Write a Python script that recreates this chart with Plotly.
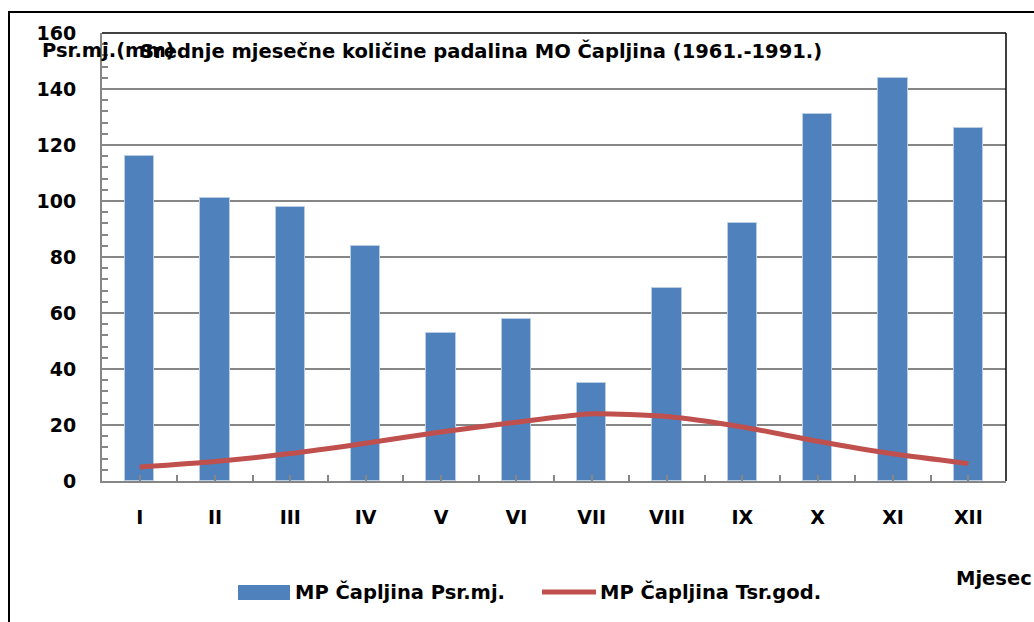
import plotly.graph_objects as go

# ---- data ----
months = ["I", "II", "III", "IV", "V", "VI", "VII", "VIII", "IX", "X", "XI", "XII"]
precip = [116, 101, 98, 84, 53, 58, 35, 69, 92, 131, 144, 126]          # MP Čapljina Psr.mj.
temp = [5.0, 7.0, 9.8, 13.5, 17.5, 21.0, 24.0, 23.0, 19.3, 14.2, 9.7, 6.2]  # MP Čapljina Tsr.god.
y_ticks = [0, 20, 40, 60, 80, 100, 120, 140, 160]

title_text = "Srednje mjesečne količine padalina MO Čapljina (1961.-1991.)"
ytitle_text = "Psr.mj.(mm)"
xtitle_text = "Mjesec"
bar_name = "MP Čapljina Psr.mj."
line_name = "MP Čapljina Tsr.god."

# ---- layout geometry (pixels) ----
W, H = 1034, 622
L, R, T, B = 102, 1006, 33, 481
pw, ph = R - L, B - T

def px(x):
    return (x - L) / pw

def py(y):
    return (B - y) / ph

FONT = "DejaVu Sans"
FS = 19
FS_TXT = 19.5
BLUE = "#4F81BD"
RED = "#C0504D"
GRAY = "#868686"

xs = list(range(len(months)))

fig = go.Figure()
fig.add_trace(go.Bar(
    x=xs, y=precip, name=bar_name, width=0.39,
    marker=dict(color=BLUE, line=dict(color="#B9CDE5", width=1)),
    showlegend=False,
))
fig.add_trace(go.Scatter(
    x=xs, y=temp, name=line_name, mode="lines",
    line=dict(color=RED, width=5, shape="spline", smoothing=0.6),
    showlegend=False,
))

shapes = [
    # plot area top and right border (black)
    dict(type="line", xref="paper", yref="paper", x0=0, x1=1, y0=1, y1=1,
         line=dict(color="black", width=1.5)),
    dict(type="line", xref="paper", yref="paper", x0=1, x1=1, y0=0, y1=1,
         line=dict(color="black", width=1.5)),
    # outer chart border
    dict(type="rect", xref="paper", yref="paper",
         x0=px(9), x1=px(1045), y0=py(640), y1=py(12),
         line=dict(color="black", width=2)),
    # legend swatches
    dict(type="rect", xref="paper", yref="paper",
         x0=px(238), x1=px(290), y0=py(600), y1=py(585),
         fillcolor=BLUE, line=dict(width=0)),
    dict(type="line", xref="paper", yref="paper",
         x0=px(542), x1=px(596), y0=py(592), y1=py(592),
         line=dict(color=RED, width=5)),
]

bold = dict(family=FONT, size=FS, color="black", weight="bold")
bold_txt = dict(family=FONT, size=FS_TXT, color="black", weight="bold")
annotations = [
    dict(text=ytitle_text, xref="paper", yref="paper", x=px(40), y=py(51),
         xanchor="left", yanchor="middle", showarrow=False, font=bold_txt),
    dict(text=title_text, xref="paper", yref="paper", x=px(138), y=py(51),
         xanchor="left", yanchor="middle", showarrow=False, font=bold_txt),
    dict(text=bar_name, xref="paper", yref="paper", x=px(293), y=py(592),
         xanchor="left", yanchor="middle", showarrow=False, font=bold_txt),
    dict(text=line_name, xref="paper", yref="paper", x=px(598), y=py(592),
         xanchor="left", yanchor="middle", showarrow=False, font=bold_txt),
    dict(text=xtitle_text, xref="paper", yref="paper", x=px(954), y=py(578),
         xanchor="left", yanchor="middle", showarrow=False, font=bold_txt),
]

fig.update_layout(
    width=W, height=H, autosize=False,
    margin=dict(l=L, r=W - R, t=T, b=H - B, pad=0),
    paper_bgcolor="white", plot_bgcolor="white",
    font=dict(family=FONT, size=FS, color="black"),
    bargap=0, showlegend=False,
    shapes=shapes, annotations=annotations,
)
fig.update_xaxes(
    range=[-0.5, len(months) - 0.5],
    tickmode="array", tickvals=xs, ticktext=months,
    ticks="inside", ticklen=6, tickwidth=2, tickcolor=GRAY,
    minor=dict(ticks="inside", ticklen=6, tickwidth=2, tickcolor=GRAY,
               tick0=-0.5, dtick=1),
    showline=True, linecolor=GRAY, linewidth=2,
    showgrid=False, zeroline=False,
    tickfont=bold,
    ticklabelstandoff=18,
)
fig.update_yaxes(
    range=[0, 160],
    tickmode="array", tickvals=y_ticks,
    ticks="inside", ticklen=6, tickwidth=2, tickcolor=GRAY,
    minor=dict(ticks="inside", ticklen=6, tickwidth=2, tickcolor=GRAY,
               tick0=0, dtick=4, showgrid=False),
    showline=True, linecolor=GRAY, linewidth=2,
    showgrid=True, gridcolor=GRAY, gridwidth=1.5,
    zeroline=False,
    tickfont=bold,
    ticklabelstandoff=20,
)

fig.write_html("out.html", config={"displayModeBar": False},
               post_script="document.body.style.margin='0';")
